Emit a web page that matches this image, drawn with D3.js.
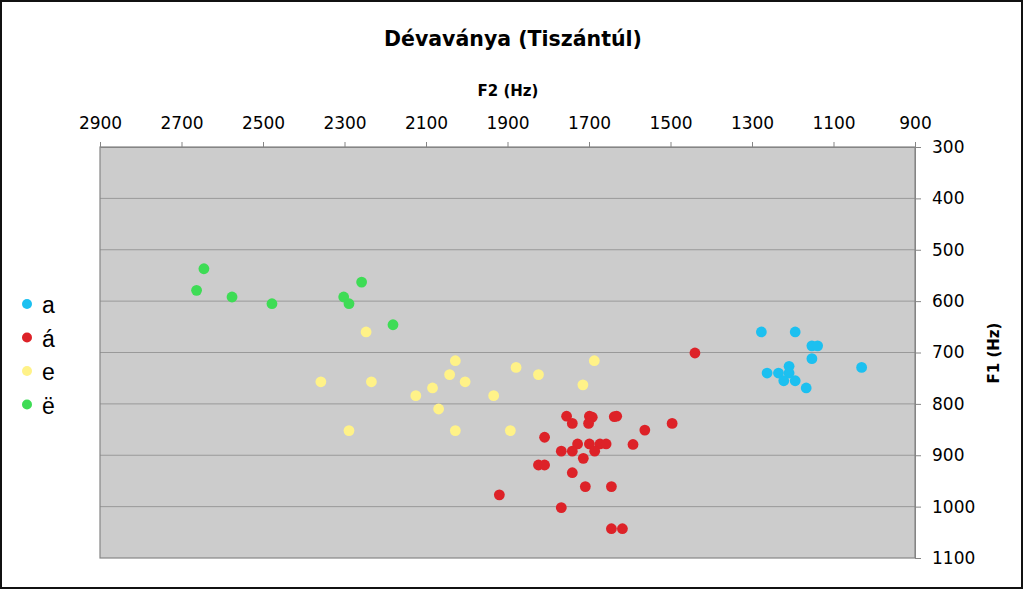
<!DOCTYPE html>
<html>
<head>
<meta charset="utf-8">
<script src="https://cdn.jsdelivr.net/npm/d3@7"></script>
<style>
  body { margin: 0; background: #fff; }
  svg { display: block; }
</style>
</head>
<body>
<div id="chart"></div>
<script>
// series order as in the legend
var seriesNames = ['a', 'á', 'e', 'ë'];
var seriesColors = ['#1cc0f0', '#dd2228', '#fff288', '#3edc55'];

// F2 / F1 values (Hz)
var aF2 = [1277, 1194, 1153, 1139, 1153, 1209, 1031, 1263, 1235, 1209, 1222, 1194, 1167];
var aF1 = [660, 660, 687, 687, 712, 727, 729, 740, 740, 740, 755, 755, 769];

var aaF2 = [1440, 1755, 1741, 1699, 1692, 1701, 1638, 1632, 1496, 1563, 1809, 1728, 1699, 1673, 1658,
            1592, 1768, 1741, 1686, 1714, 1824, 1809, 1741, 1709, 1645, 1920, 1768, 1645, 1618];
var aaF1 = [701, 824, 838, 824, 826, 838, 825, 824, 838, 851, 865, 878, 878, 878, 878,
            879, 892, 892, 892, 906, 919, 919, 934, 961, 961, 977, 1002, 1043, 1043];

var eF2 = [2247, 2358, 2234, 2028, 2042, 2004, 2084, 2125, 1934, 1879, 1824, 1715, 1687, 2069, 2289, 2028, 1893];
var eF1 = [660, 757, 757, 716, 743, 757, 769, 784, 784, 729, 743, 763, 716, 810, 852, 852, 852];

var eeF2 = [2645, 2663, 2576, 2478, 2302, 2289, 2258, 2181];
var eeF1 = [537, 579, 592, 605, 592, 605, 563, 646];

var f2Ticks = [2900, 2700, 2500, 2300, 2100, 1900, 1700, 1500, 1300, 1100, 900];
var f1Ticks = [300, 400, 500, 600, 700, 800, 900, 1000, 1100];

var seriesF2 = [aF2, aaF2, eF2, eeF2];
var seriesF1 = [aF1, aaF1, eF1, eeF1];

var W = 1024, H = 591;
var plot = { left: 100, right: 915, top: 147, bottom: 558 };

var svg = d3.select('#chart')
            .append('svg')
            .attr('width', W)
            .attr('height', H);

// outer frame
svg.append('rect')
   .attr('x', 1).attr('y', 1)
   .attr('width', W - 3).attr('height', H - 4)
   .attr('fill', '#fff')
   .attr('stroke', '#111')
   .attr('stroke-width', 2);

var x = d3.scaleLinear().domain([2900, 900]).range([plot.left, plot.right]);
var y = d3.scaleLinear().domain([300, 1100]).range([plot.top, plot.bottom]);

// plot area
svg.append('rect')
   .attr('x', plot.left).attr('y', plot.top)
   .attr('width', plot.right - plot.left)
   .attr('height', plot.bottom - plot.top)
   .attr('fill', '#cccccc');

// horizontal gridlines
svg.append('g')
   .selectAll('line')
   .data(f1Ticks.slice(1, -1))
   .enter()
   .append('line')
   .attr('x1', plot.left).attr('x2', plot.right)
   .attr('y1', function (d) { return y(d); })
   .attr('y2', function (d) { return y(d); })
   .attr('stroke', '#999')
   .attr('stroke-width', 1);

// plot border
svg.append('rect')
   .attr('x', plot.left).attr('y', plot.top)
   .attr('width', plot.right - plot.left)
   .attr('height', plot.bottom - plot.top)
   .attr('fill', 'none')
   .attr('stroke', '#858585')
   .attr('stroke-width', 1.2);

var fmt = d3.format('d');

// top axis (F2)
var xAxis = svg.append('g')
   .attr('transform', 'translate(0,' + plot.top + ')')
   .call(d3.axisTop(x).tickValues(f2Ticks).tickFormat(fmt).tickSize(5).tickPadding(13).tickSizeOuter(0));

// right axis (F1)
var yAxis = svg.append('g')
   .attr('transform', 'translate(' + plot.right + ',0)')
   .call(d3.axisRight(y).tickValues(f1Ticks).tickFormat(fmt).tickSize(6).tickPadding(11).tickSizeOuter(0));

[xAxis, yAxis].forEach(function (ax) {
    ax.select('.domain').attr('stroke', '#858585');
    ax.selectAll('.tick line').attr('stroke', '#858585');
    ax.selectAll('.tick text')
      .attr('fill', '#000')
      .style('font-family', 'DejaVu Sans, Verdana, sans-serif')
      .style('font-size', '17px');
});

// titles
svg.append('text')
   .attr('x', 513).attr('y', 46)
   .attr('text-anchor', 'middle')
   .style('font-family', 'DejaVu Sans, Verdana, sans-serif')
   .style('font-weight', 'bold')
   .style('font-size', '20.5px')
   .text('Dévaványa (Tiszántúl)');

svg.append('text')
   .attr('x', 508).attr('y', 96)
   .attr('text-anchor', 'middle')
   .style('font-family', 'DejaVu Sans, Verdana, sans-serif')
   .style('font-weight', 'bold')
   .style('font-size', '15px')
   .text('F2 (Hz)');

svg.append('text')
   .attr('transform', 'translate(999,353) rotate(-90)')
   .attr('text-anchor', 'middle')
   .style('font-family', 'DejaVu Sans, Verdana, sans-serif')
   .style('font-weight', 'bold')
   .style('font-size', '15px')
   .text('F1 (Hz)');

// points
seriesNames.forEach(function (name, i) {
    var pts = seriesF2[i].map(function (f2, j) { return { f2: f2, f1: seriesF1[i][j] }; });
    svg.append('g')
       .selectAll('circle')
       .data(pts)
       .enter()
       .append('circle')
       .attr('cx', function (d) { return x(d.f2); })
       .attr('cy', function (d) { return y(d.f1); })
       .attr('r', 5.4)
       .style('fill', seriesColors[i]);
});

// legend
var legend = svg.append('g')
   .selectAll('g')
   .data(seriesNames)
   .enter()
   .append('g')
   .attr('transform', function (d, i) { return 'translate(27,' + (304 + i * 33.5) + ')'; });

legend.append('circle')
      .attr('r', 5)
      .style('fill', function (d, i) { return seriesColors[i]; });

legend.append('text')
      .attr('x', 15).attr('y', 9)
      .style('font-family', 'Liberation Sans, Arial, sans-serif')
      .style('font-size', '23px')
      .text(function (d) { return d; });
</script>
</body>
</html>
